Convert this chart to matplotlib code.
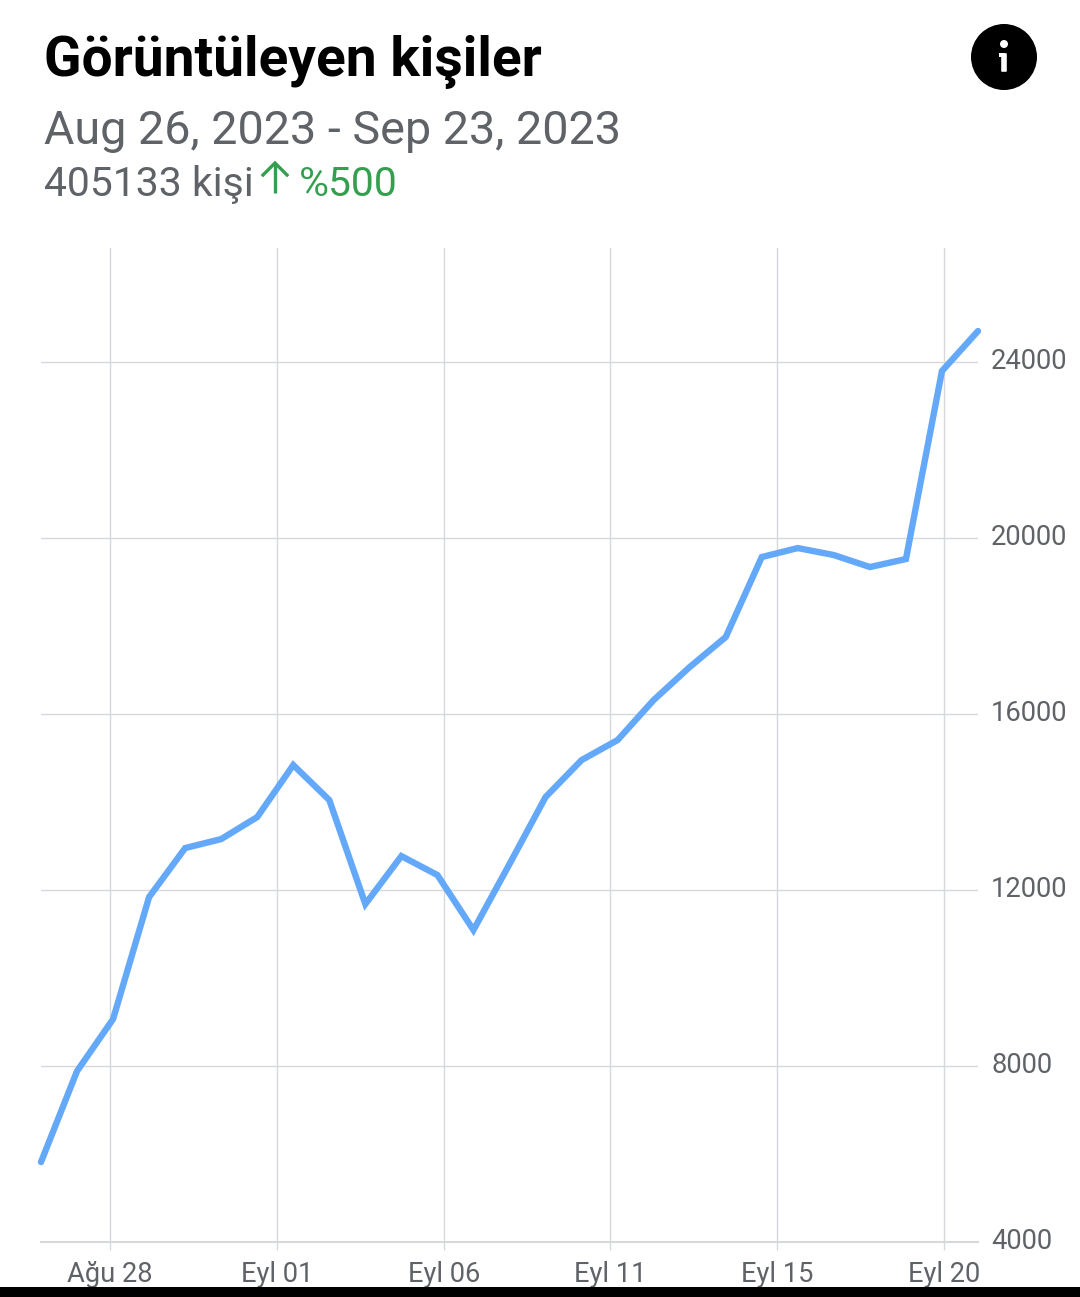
import matplotlib
matplotlib.use("Agg")
import matplotlib.pyplot as plt
from matplotlib.patches import Circle, Rectangle, FancyBboxPatch

plt.rcParams['font.family'] = ['Roboto', 'DejaVu Sans']

W, H = 1080, 1297
TITLE = "Görüntüleyen kişiler"
DATE_RANGE = "Aug 26, 2023 - Sep 23, 2023"
TOTAL = "405133 kişi"
CHANGE = "%500"

values = [5807, 7875, 9057, 11830, 12943, 13148, 13648, 14830, 14034, 11670,
          12761, 12330, 11080, 12580, 14102, 14943, 15398, 16307, 17057, 17739,
          19557, 19761, 19602, 19330, 19511, 23784, 24693]
day_index = list(range(len(values)))
x_tick_pos = [1.92, 6.56, 11.18, 15.80, 20.43, 25.05]
x_tick_labels = ["Ağu 28", "Eyl 01", "Eyl 06", "Eyl 11", "Eyl 15", "Eyl 20"]
y_ticks = [4000, 8000, 12000, 16000, 20000, 24000]

fig = plt.figure(figsize=(W / 100, H / 100), dpi=100, facecolor='white')
GRAY = '#5f6368'
GRID = '#d6d8dc'

ax = fig.add_axes([41 / W, 1 - 1241.6 / H, (978 - 41) / W, (1241.6 - 248) / H])
ax.set_xlim(0, 26)
ax.set_ylim(4000, 26580)
for s in ax.spines.values():
    s.set_visible(False)
ax.grid(True, color=GRID, lw=1.0)
ax.set_axisbelow(True)
ax.plot(day_index, values, color='#64a9f9', lw=4.6, solid_joinstyle='miter',
        solid_capstyle='round', clip_on=False, zorder=3)
ax.set_xticks(x_tick_pos)
ax.set_xticklabels(x_tick_labels, fontsize=19.6, color=GRAY)
ax.set_yticks(y_ticks)
ax.set_yticklabels([str(v) for v in y_ticks], fontsize=19.7, color=GRAY)
ax.yaxis.tick_right()
ax.tick_params(axis='x', length=6, color=GRID, width=1, pad=8)
ax.tick_params(axis='y', length=0, pad=9.5)
for lab in ax.get_yticklabels():
    lab.set_verticalalignment('center')
ax.axhline(4000, color=GRID, lw=1.5, clip_on=False)

ov = fig.add_axes([0, 0, 1, 1], facecolor='none')
ov.set_xlim(0, W)
ov.set_ylim(H, 0)
ov.axis('off')
ov.text(44.5, 62, TITLE, fontsize=39.7, fontweight='bold', color='black', va='center', ha='left')
ov.text(44, 131, DATE_RANGE, fontsize=33.7, color=GRAY, va='center', ha='left')
ov.text(44, 184, TOTAL, fontsize=29.4, color=GRAY, va='center', ha='left')
ov.plot([275, 275], [163, 193], color='#34a04f', lw=2.4, solid_capstyle='butt')
ov.plot([263, 275, 287], [175, 163, 175], color='#34a04f', lw=2.4, solid_joinstyle='miter')
ov.text(299, 184, CHANGE, fontsize=29.4, color='#34a04f', va='center', ha='left')

ov.add_patch(Circle((1004, 57), 33, color='black', lw=0))
ov.add_patch(Circle((1004, 44), 4, color='white', lw=0))
ov.add_patch(FancyBboxPatch((1002, 54), 4, 17, boxstyle='round,pad=0.8', color='white', lw=0))
ov.add_patch(Rectangle((998.5, 52.5), 6, 4, color='white', lw=0))
ov.add_patch(Rectangle((0, 1287), W, 10, color='black', lw=0, zorder=5))

fig.savefig('out.png', dpi=100, facecolor='white')
